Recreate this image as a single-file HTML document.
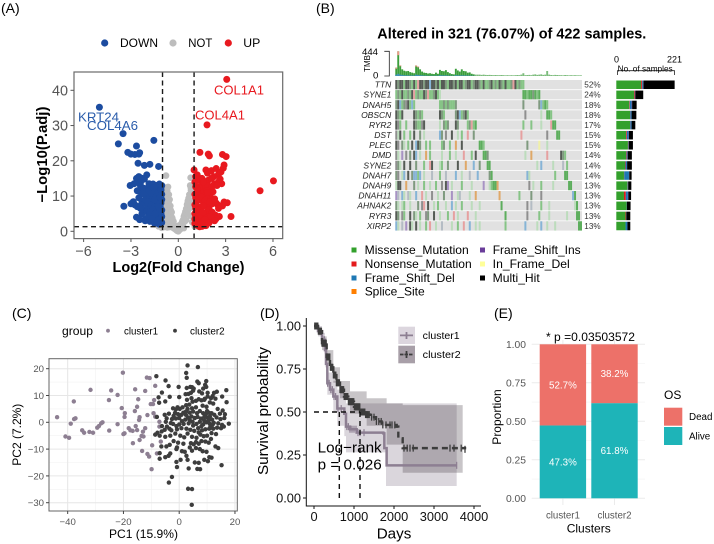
<!DOCTYPE html>
<html lang="en">
<head>
<meta charset="utf-8">
<title>Multi-panel figure</title>
<style>
html,body{margin:0;padding:0;background:#fff;}
svg{display:block;font-family:"Liberation Sans",sans-serif;filter:blur(0.35px);}
text{font-family:"Liberation Sans",sans-serif;}
</style>
</head>
<body>
<svg id="fig" xmlns="http://www.w3.org/2000/svg" width="714" height="544" viewBox="0 0 714 544">
<rect width="714" height="544" fill="#fff"/>

<text x="1" y="13" font-size="14">(A)</text>
<text x="316" y="13" font-size="14">(B)</text>
<text x="12" y="318" font-size="14">(C)</text>
<text x="260" y="318" font-size="14">(D)</text>
<text x="494" y="318" font-size="14">(E)</text>

<!-- Panel A -->
<g id="volcano">
  <g>
    <circle cx="104.7" cy="43" r="3.6" fill="#1c4ca0"/>
    <text x="120" y="47" font-size="12" textLength="38">DOWN</text>
    <circle cx="173" cy="43" r="3.6" fill="#bdbdbd"/>
    <text x="188.3" y="47" font-size="12" textLength="24">NOT</text>
    <circle cx="228.3" cy="43" r="3.6" fill="#e8191f"/>
    <text x="243.3" y="47" font-size="12" textLength="17">UP</text>
  </g>
  <g id="volcano-marks"></g>
  <rect x="74" y="72" width="208.7" height="166.6" fill="none" stroke="#6a6a6a" stroke-width="1.2"/>
  <g id="volcano-axes"></g>
  <text x="78" y="121.5" font-size="13.2" fill="#2a5cab" textLength="41">KRT24</text>
  <text x="87" y="130" font-size="13.2" fill="#2a5cab" textLength="51">COL4A6</text>
  <text x="214" y="94.7" font-size="13" fill="#e8191f" textLength="50">COL1A1</text>
  <text x="195" y="119.3" font-size="13" fill="#e8191f" textLength="50">COL4A1</text>
  <text x="178.5" y="272" font-size="14.8" font-weight="bold" text-anchor="middle" textLength="132">Log2(Fold Change)</text>
  <text transform="translate(47,154.6) rotate(-90)" font-size="14.6" font-weight="bold" text-anchor="middle" textLength="96">−Log10(P.adj)</text>
</g>

<!-- Panel B -->
<g id="onco">
  <text x="377.3" y="38.7" font-size="14.6" font-weight="bold" textLength="269">Altered in 321 (76.07%) of 422 samples.</text>
  <g id="onco-tmb"></g>
  <path d="M384.3 51.3H389.3V76H384.3" fill="none" stroke="#222" stroke-width="0.8"/>
  <text x="362" y="55" font-size="9.6" textLength="16">444</text>
  <text x="373" y="78.5" font-size="9.6">0</text>
  <text transform="translate(370,63.5) rotate(-90)" font-size="7.9" text-anchor="middle">TMB</text>
  <g id="onco-matrix"></g>
  <g id="onco-labels"></g>
  <g id="onco-side"></g>
  <path d="M617.5 75V70.7H674.5V75" fill="none" stroke="#222" stroke-width="0.8"/>
  <text x="616.5" y="62.5" font-size="9" text-anchor="middle">0</text>
  <text x="674.5" y="62.5" font-size="9" text-anchor="middle">221</text>
  <text x="617.7" y="71.5" font-size="8.2" textLength="55">No. of samples</text>
  <g>
    <rect x="351.5" y="247.5" width="5" height="5" fill="#33a02c"/>
    <text x="364.7" y="254" font-size="12" textLength="104">Missense_Mutation</text>
    <rect x="351.5" y="261.5" width="5" height="5" fill="#e31a1c"/>
    <text x="364.7" y="268" font-size="12" textLength="107">Nonsense_Mutation</text>
    <rect x="351.5" y="275.5" width="5" height="5" fill="#1f78b4"/>
    <text x="364.7" y="282" font-size="12" textLength="90">Frame_Shift_Del</text>
    <rect x="351.5" y="289" width="5" height="5" fill="#ff7f00"/>
    <text x="364.7" y="295.5" font-size="12" textLength="60">Splice_Site</text>
    <rect x="480" y="247.5" width="5" height="5" fill="#6a3d9a"/>
    <text x="492.7" y="254" font-size="12" textLength="88">Frame_Shift_Ins</text>
    <rect x="480" y="261.5" width="5" height="5" fill="#ffff99"/>
    <text x="492.7" y="268" font-size="12" textLength="77">In_Frame_Del</text>
    <rect x="480" y="275.5" width="5" height="5" fill="#000"/>
    <text x="492.7" y="282" font-size="12" textLength="47">Multi_Hit</text>
  </g>
</g>

<!-- Panel C -->
<g id="pca">
  <g>
    <text x="62" y="335" font-size="12" textLength="31">group</text>
    <circle cx="108" cy="330.7" r="1.9" fill="#8d7f92"/>
    <text x="124" y="334.3" font-size="9.7" textLength="34">cluster1</text>
    <circle cx="175" cy="330.7" r="1.9" fill="#3d3d3d"/>
    <text x="190" y="334.3" font-size="9.7" textLength="34.7">cluster2</text>
  </g>
  <g id="pca-grid"></g>
  <g id="pca-marks"></g>
  <rect x="49" y="358.7" width="188.3" height="152.3" fill="none" stroke="#666" stroke-width="1"/>
  <g id="pca-axes"></g>
  <text x="143.5" y="538" font-size="12" text-anchor="middle" textLength="69">PC1 (15.9%)</text>
  <text transform="translate(21,434.7) rotate(-90)" font-size="12" text-anchor="middle" textLength="62">PC2 (7.2%)</text>
</g>

<!-- Panel D -->
<g id="surv">
  <g id="surv-marks"></g>
  <path d="M306.3 318V506H481" fill="none" stroke="#111" stroke-width="1"/>
  <g id="surv-axes"></g>
  <g>
    <rect x="398.3" y="326.7" width="16.7" height="17.3" fill="#dcd6de"/>
    <path d="M400 335.4H413M406.5 332V339" stroke="#8d7f92" stroke-width="1.8" fill="none"/>
    <text x="422.7" y="339" font-size="10.5" textLength="37">cluster1</text>
    <rect x="398.3" y="345.7" width="16.7" height="17.6" fill="#a89fa8"/>
    <path d="M400 354.5H413M406.5 351V358" stroke="#3d3d3d" stroke-width="1.8" stroke-dasharray="3.5 1" fill="none"/>
    <text x="422.7" y="358" font-size="10.5" textLength="38">cluster2</text>
  </g>
  <text x="317.7" y="452.7" font-size="15.2" textLength="64">Log−rank</text>
  <text x="317.7" y="469.3" font-size="15.2" textLength="64">p = 0.026</text>
  <text x="394" y="538.5" font-size="15.2" text-anchor="middle">Days</text>
  <text transform="translate(268,411) rotate(-90)" font-size="15.2" text-anchor="middle" textLength="128">Survival probability</text>
</g>

<!-- Panel E -->
<g id="stack">
  <g id="stack-grid"></g>
  <g id="stack-marks"></g>
  <g id="stack-axes"></g>
  <text x="546" y="341" font-size="12" textLength="89">* p =0.03503572</text>
  <text x="588.7" y="532.7" font-size="12" text-anchor="middle">Clusters</text>
  <text transform="translate(501,417) rotate(-90)" font-size="12" text-anchor="middle">Proportion</text>
  <g>
    <text x="664" y="399" font-size="12">OS</text>
    <rect x="664" y="407.7" width="18.3" height="18" fill="#ed7169"/>
    <text x="689" y="420.2" font-size="9.8">Dead</text>
    <rect x="664" y="427" width="18.3" height="18" fill="#1eb4b8"/>
    <text x="689" y="439.7" font-size="9.8">Alive</text>
  </g>
</g>
</svg>

<script>
/* ---------- Panel A data ---------- */
const volcanoXTicks = [-6, -3, 0, 3, 6];
const volcanoYTicks = [0, 10, 20, 30, 40];
const notX = [-0.78,0.78,-0.7,-0.75,-0.6,-0.65,-0.72,-0.55,-0.8,-0.68,-0.62,-0.58,-0.5,-0.85,-0.9,-0.75,-0.55,-0.48,-0.42,-0.6,-0.7,-0.82,-0.92,-0.5,-0.44,-0.38,-0.55,-0.65,-0.75,-0.88,-0.95,-0.35,-0.3,-0.42,-0.5,-0.6,-0.72,-0.85,-0.98,-1.1,-1.25,-0.28,-0.22,-0.35,-0.45,-0.55,-0.7,-0.9,-1.05,-0.15,-0.08,-0.2,-0.3,0,0.05,0.1,0.15,-0.1,-0.05,0.02,0.12,0.2,0.25,0.3,0.35,0.4,0.3,0.25,0.45,0.5,0.42,0.55,0.6,0.5,0.65,0.7,0.58,0.62,0.72,0.8,0.85,0.68,0.75,0.82,0.9,0.92,0.78,0.88,0.95,0.98,1.05,1.2,0.35,0.15,-0.65,-0.82,0.75,0.8];
const notY = [15.8,15.2,11.4,10.8,10.4,9.8,9.4,9,9.2,8.6,8.2,7.6,7.2,8,7,7,6.4,6,5.4,5.6,5.8,5.4,6,4.6,4.2,3.8,3.8,4,4.4,3.8,4.2,3.2,2.8,2.6,2.8,2.6,2.6,2.4,2.6,1.5,1.4,1.8,1.4,1.4,1.4,1.2,1.1,1.2,1,0.8,0.3,0.6,0.9,0,0.3,0.5,0.9,0.2,0.1,1.6,1.8,2.2,2.8,3.2,4.2,4.8,1.4,1.2,5.6,6.4,2.8,7.6,8.6,3.2,9.4,10.4,5,6,6.6,11.6,12.2,7.6,8.6,8,6.8,4.4,4.4,2.6,2.4,3,1.3,1.4,0.9,0.7,12.6,12.4,13,12.2];
const downX = [-5.0,-3.5,-3.8,-2.65,-1.55,-3.2,-3.0,-2.75,-2.5,-2.45,-2.55,-2.15,-1.8,-1.25,-3.05,-3.45,-2.9,-2.75,-2.65,-2.6,-2.5,-2.4,-2.3,-2.15,-2.0,-1.9,-2.35,-2.2,-2.05,-1.85,-1.7,-1.6,-1.5,-1.4,-1.3,-1.2,-1.15,-1.1,-1.05,-2.5,-2.3,-2.1,-1.95,-1.8,-1.65,-1.5,-1.35,-1.25,-1.1,-2.6,-2.35,-2.15,-1.95,-1.75,-1.55,-1.4,-1.2,-1.05,-2.65,-2.3,-2.1,-1.75,-1.6,-1.45,-1.25,-1.1,-2.45,-2.1,-1.7,-1.45,-1.3,-1.15,-1.05,-1.8,-1.5,-1.2,-1.35,-1.1,-1.9,-1.6,-1.05,-1.3,-1.75,-1.55,-2.8,-2.4,-2.2,-2.0,-1.85,-1.7,-1.55,-1.4,-1.25,-1.1,-2.6,-2.2,-1.95,-1.7,-1.5,-1.3,-1.15,-2.4,-2.0,-1.8,-1.6,-1.4,-1.2,-1.05,-1.9,-1.65,-1.45,-1.25,-1.1,-3.0,-2.85,-1.5,-1.25,-1.15,-1.35,-1.05];
const downY = [35.2,27.7,24.8,24.2,25.8,22.4,21.9,21.8,21.9,22.3,19.3,18.7,19,18.4,13,7.1,8,7.5,15,14.5,15.5,13,15,14.8,16,12.5,11,12,10,13.5,12,13.4,11,13,12,13.4,10,12,9,9.5,8.5,9,7.8,10,9,10.5,9.5,10,8,7,7.5,6,7,6.5,8,7,8,6,4,5,3.5,4.5,5,4,4.5,5,3.3,3,3.5,3,4,3,2.5,2.8,2.2,2,5.8,3.8,10.8,11.5,13,8.6,8,6,13.5,13.8,12.2,11.2,11.6,10.8,12.4,9.8,11,11.6,11.5,10.6,8.4,7.5,6.8,6.4,7,6.5,5.6,5.4,6,5.4,5.6,4.2,4.2,3.6,5,3.2,2.2,7.8,8.4,9,7,9.6,2.6,10.5];
const upX = [3.07,1.82,6.03,5.18,1.37,1.9,1.97,2.8,3.03,2.9,2.85,3.34,2.9,3.1,1.0,1.2,1.5,1.75,1.85,2.1,2.4,2.55,2.7,2.25,1.05,1.3,1.55,1.9,2.1,2.3,2.55,2.75,1.1,1.4,1.65,1.85,2.05,2.25,1.05,1.3,1.6,1.8,2.0,2.2,1.15,1.35,1.55,1.75,2.4,2.5,1.05,1.25,1.45,1.75,1.95,2.15,2.55,2.7,1.05,1.2,1.4,1.6,1.85,2.1,2.35,2.6,2.4,1.15,1.35,1.55,1.75,1.95,2.2,1.05,1.25,1.45,1.65,1.85,1.3,1.5,1.15,1.6,1.45,1.35,1.1,1.3,1.6,1.85,2.15,2.45,2.65,1.2,1.45,1.7,2.0,2.3,1.1,1.35,1.6,1.9,2.15,1.1,1.3,1.55,1.8,2.05,2.3,1.2,1.4,1.7,1.95,1.05,1.25,1.55,1.75,1.35,1.45,1.1,1.2,2.8];
const upY = [43.1,30.2,14.3,11.5,22.4,21.9,21.4,21.8,21.2,18.8,17.9,4.2,8.3,8.1,17.4,16,15,17.4,16.5,17.2,17.8,16.2,16.8,15.5,14,14.4,13.5,14.5,15,13.5,14,13.5,12.6,11.5,12.5,13,12,13,10.5,10,11,11.5,10,11.2,8.5,9,8.5,9.6,8,7.5,7.5,7,6.8,7.6,6.5,7.8,6.5,7.2,5,5.5,5,4.8,5.6,5,4.6,4.2,3.6,3.5,3.2,4,3.6,3.2,3.2,2.2,2.4,2.2,2.6,2.4,1.6,1.4,1.8,1.6,2.8,6.2,15.5,12.5,14,11,12.8,13,14.8,10,9.8,8.8,8.4,9.2,6.5,6.2,7.2,6,5.4,4.2,4.4,5.4,3.8,4,3,3,2.2,3.2,2.4,3.5,1.6,1.6,1.6,1.3,2,9.5,12,7.2];

/* ---------- Panel B data ---------- */
const geneNames = ["TTN","SYNE1","DNAH5","OBSCN","RYR2","DST","PLEC","DMD","SYNE2","DNAH7","DNAH9","DNAH11","AHNAK2","RYR3","XIRP2"];
const genePercents = ["52%","24%","18%","18%","17%","15%","15%","14%","14%","14%","13%","13%","13%","13%","13%"];
const mutationRows = [
 [[0,"kgkkmkkgmkmrkkgkkbkkgkmkkgmkkgkmkkmgkkmgkkgmkmmgkmgmkgmkmmgrkmgmm"]],
 [[0,"mgmkmmgmkrmgmmkgrmmgkml"],[64,"MMmMMgMmM"]],
 [[0,"gkbmgxkmbm"],[22,"mmgmgmmmg"],[64,"g"],[72,"gbmMm"]],
 [[0,"kgmk"],[9,"kgmgm"],[22,"kgm"],[30,"gkbmgkm"],[65,"x"],[73,"l"],[76,"MMm"]],
 [[0,"kxm"],[5,"m"],[9,"kgmmxk"],[22,"l"],[24,"gmg"],[30,"kg"],[36,"mgrmM"],[64,"m"],[68,"m"],[73,"l"],[78,"rMM"]],
 [[0,"xlk"],[4,"m"],[7,"m"],[9,"k"],[12,"g"],[14,"l"],[22,"bg"],[25,"x"],[28,"k"],[31,"l"],[33,"m"],[36,"r"],[39,"g"],[63,"r"],[76,"x"],[81,"MM"]],
 [[0,"kx"],[3,"gl"],[6,"m"],[8,"k"],[10,"b"],[11,"kg"],[15,"m"],[17,"m"],[23,"mg"],[27,"m"],[30,"o"],[33,"k"],[42,"MMm"],[66,"g"],[72,"y"],[76,"l"]],
 [[0,"xl"],[3,"p"],[5,"x"],[7,"g"],[9,"kb"],[12,"l"],[15,"o"],[17,"m"],[23,"l"],[27,"m"],[30,"l"],[34,"r"],[38,"m"],[40,"k"],[44,"MMg"],[65,"l"],[68,"o"],[76,"r"],[83,"kgm"]],
 [[0,"xgl"],[4,"k"],[7,"k"],[10,"g"],[14,"m"],[17,"rk"],[22,"lm"],[26,"g"],[31,"k"],[35,"o"],[39,"b"],[42,"g"],[46,"MM"],[71,"l"],[73,"b"],[79,"l"],[84,"s"],[86,"m"]],
 [[0,"gx"],[3,"lb"],[6,"k"],[8,"gbbmb"],[14,"l"],[18,"s"],[22,"m"],[25,"s"],[30,"b"],[33,"l"],[37,"s"],[41,"b"],[47,"gM"],[66,"bl"],[80,"m"],[85,"MM"]],
 [[0,"lkk"],[5,"o"],[9,"g"],[11,"l"],[14,"m"],[17,"l"],[20,"m"],[23,"x"],[25,"kp"],[28,"l"],[33,"m"],[38,"l"],[44,"p"],[47,"lm"],[49,"MMo"],[67,"x"],[69,"l"],[73,"m"],[79,"l"],[87,"MM"]],
 [[0,"ps"],[3,"bl"],[6,"sl"],[10,"b"],[13,"r"],[15,"l"],[18,"x"],[21,"l"],[24,"g"],[28,"p"],[31,"ls"],[37,"l"],[40,"o"],[52,"o"],[62,"m"],[68,"g"],[73,"x"],[89,"bM"]],
 [[0,"gl"],[3,"lm"],[7,"l"],[11,"g"],[13,"xr"],[16,"k"],[19,"l"],[21,"m"],[25,"l"],[28,"b"],[30,"l"],[33,"m"],[38,"l"],[42,"l"],[53,"M"],[66,"x"],[68,"s"],[73,"m"],[77,"l"],[90,"lM"]],
 [[0,"kg"],[3,"xm"],[7,"k"],[9,"gl"],[12,"m"],[15,"xg"],[19,"k"],[22,"l"],[26,"m"],[29,"r"],[31,"l"],[36,"r"],[40,"l"],[55,"M"],[66,"x"],[72,"m"],[77,"l"],[86,"l"],[91,"MM"]],
 [[0,"bl"],[3,"s"],[5,"p"],[7,"kl"],[10,"k"],[12,"l"],[15,"m"],[17,"r"],[20,"l"],[23,"s"],[28,"l"],[31,"m"],[34,"r"],[37,"b"],[40,"l"],[42,"l"],[55,"m"],[65,"b"],[71,"l"],[73,"b"],[76,"l"],[80,"l"],[92,"MM"]]
];
const cellColors = {m:"#86c486",M:"#5dae5d",l:"#bcdcbc",k:"#555b55",g:"#7f9a7f",b:"#86b4d6",r:"#e6a0a0",o:"#dfa868",p:"#a892c4",y:"#f0f0a8",x:"#8f8f8f",s:"#b4bcc4"};
const tmbValues = [150,444,190,120,95,85,90,70,60,50,190,170,120,80,60,55,45,50,40,35,60,40,110,90,85,105,70,50,35,30,130,100,80,120,90,85,60,65,40,30,25,25,25,20,25,20,18,20,18,15,18,15,15,18,15,12,15,12,15,12,15,18,15,25,50,15,18,20,15,25,30,20,25,30,20,25,90,25,18,15,20,18,15,15,12,18,15,12,15,12,15,12,12,12];
const tmbFrameshift = [25,40,25,20,15,12,12,10,10,8,25,20,15,12,8,8,5,5,5,5,8,5,15,12,10,12,8,6,5,4,15,12,10,12,10,10,8,8,5,4];
const tmbNonsense = [20,70,15,0,0,0,0,0,0,0,20,15];
const sideMissense = [94,67,49,52,52,37,44,37,33,29,42,29,39,35,35];
const sideNonsense = [4,3,2,1,1,3,1,2,2,1,1,7,0,2,0];
const sideFrameDel = [4,1,7,5,5,6,1,3,6,18,2,8,1,1,7];
const sideFrameIns = [1,1,2,0,0,2,1,1,0,1,0,2,0,0,0];
const sideMultiHit = [118,30,17,18,14,15,16,16,18,9,12,10,14,15,11];

/* ---------- Panel C data ---------- */
const pcaXMajor = [-40,-20,0,20];
const pcaXMinor = [-30,-10,10];
const pcaYMajor = [-30,-20,-10,0,10,20];
const pcaYMinor = [-25,-15,-5,5,15];
const cluster1Points = [[-43.8,1.9],[-40.8,-5.3],[-39.5,-5.8],[-38.9,-0.5],[-37.8,7.8],[-37.7,1.2],[-37.2,1.5],[-34.8,-3],[-34.1,-3.9],[-32.2,-3.6],[-30.9,-3.9],[-31.8,12.1],[-29.4,-2],[-28.8,-1.4],[-28,-0.4],[-27.5,0],[-25.2,8.3],[-24.4,11.9],[-25.1,-3.1],[-22.1,10.2],[-22.1,-0.7],[-20.6,5.3],[-20.2,18.5],[-19.5,3.4],[-19.6,2],[-20,-4.4],[-19.6,-4.1],[-18.1,-2.2],[-17.5,-3],[-16.7,-3.2],[-15.6,-1.4],[-15.1,-2.9],[-15.8,12.3],[-15.9,4.2],[-14.7,8.6],[-15.1,5.8],[-14.2,1.9],[-14.4,0.9],[-16.6,-7.8],[-14.2,-6.6],[-13,-3.5],[-13.5,-5.1],[-12.8,-5.3],[-12.2,-2.2],[-12.2,11.7],[-11.6,16.7],[-10.6,16.5],[-11.4,2.7],[-13.3,-10.7],[-11.4,-11.8],[-10.8,-12.8],[-9.9,-17.5],[-9.7,-8.6],[-10.2,6.8],[-9.4,6.8],[-9,8.3],[-8.6,13.6],[-9.2,3.4],[-8.6,2.1],[-7.1,0.2],[-7.1,-1.6],[-6.6,-7.2],[-8,-11.6]];
const cluster2Points = [[-8.2,17.2],[-4.9,15.6],[-3.8,13.5],[-6.2,11.1],[-7.4,9.3],[-7.2,7.3],[-5,7.8],[-3.4,9.5],[-8,2],[-5.2,2.8],[-4.5,1.5],[-3.7,3.2],[-4.8,0.2],[-3,-0.3],[-2.6,1.2],[-2,2.4],[-1.2,4.8],[-2.2,5.2],[-0.6,5.6],[0.2,5],[-1.5,3.5],[-0.4,3],[-1.2,1.4],[0,1.6],[0.8,2.8],[1.5,3.6],[1.2,5.6],[2.5,6.4],[3,5],[3.6,6.6],[2.4,4],[3.8,3.6],[4.6,5.2],[5,4],[4.4,2.2],[3.2,1.8],[2.2,1],[1,0.4],[0,-0.8],[-1,-1.4],[-2.2,-0.6],[-3.5,-2.4],[-5.2,-2.8],[-6.3,-3.4],[-7.8,-3.9],[-8.6,-4.6],[3,21.2],[6.7,20.6],[2.5,18.4],[2.7,16.6],[6.5,15.2],[7,14.6],[9.7,15.4],[9.3,14],[9.7,13.2],[8.6,12.6],[4,13.2],[4.6,13.1],[2.7,12.8],[-0.2,13.2],[2.3,10.5],[3.3,10.6],[4.2,11],[5,11.8],[7.2,11.5],[8.2,10.8],[10.2,11],[12.5,11],[13.5,11.4],[16.9,12],[12,9.8],[13,8.8],[17,7.5],[11,7.4],[12.2,7],[7,8.6],[8,8.2],[9,8.4],[6,8],[4.8,7.7],[0,9.4],[-3.7,-22.5],[-2.6,-20.4],[3.2,-24.8],[4.6,-24.9],[4.5,-30.8],[15.2,-16],[3.4,-17.2],[6.5,-17.4],[7.5,-17.5],[-0.8,-16.7],[-1,-14.8],[0.5,-14],[-7,-13.6],[-7,-11.5],[-5,-13],[-3.8,-12.5],[-3.2,-11.6],[2.6,-12.5],[3,-14],[5.6,-15],[7,-15.1],[9,-14],[10.3,-14.5],[10.8,-13],[11.6,-13.2],[13,-9],[14,-9.6],[-1,-10],[-0.8,-9.4],[1,-10.8],[2,-11],[3.8,-9.4],[4.6,-10.6],[6,-9.6],[7.4,-10],[8.4,-10.8],[9.8,-11],[-4.6,-9],[-3.4,-8.4],[-6.4,-9],[-2,-7],[-0.4,-7.6],[1.5,-8],[4.2,-7.8],[5.2,-8.2],[6,-7.4],[7,-8],[8,-7],[9.4,-7.2],[10.6,-7.6],[11.4,-6.2],[-7,-5],[-5,-5.4],[-3.2,-5],[-1.4,-4.2],[0.4,-5],[1.8,-5.6],[3,-4.2],[4.6,-5.4],[6.2,-5.8],[7.6,-4.6],[8.8,-5.2],[10,-5],[11.6,-4],[13.2,-4.4],[-6.2,-1.4],[-4.4,-1.6],[-2.8,-3],[-0.8,-2.6],[0.8,-2.2],[2.6,-2.4],[4,-2.8],[5.4,-3.2],[6.8,-2.2],[8.2,-3],[9.4,-2.6],[10.8,-2.4],[12.2,-2.4],[13.6,-2],[15,-2.2],[16,-1.6],[1.6,-0.6],[3.4,-0.4],[4.8,0.2],[6.2,-0.6],[7.4,0.2],[8.6,-0.8],[9.8,0],[11,-0.6],[12.4,-0.2],[14,-0.4],[15.4,-1],[17.8,-0.5],[5.6,1.6],[6.6,2],[7.8,1.4],[9,2],[10,1.8],[11,2.2],[11.8,1],[13.4,1.8],[14.8,1.2],[16.2,1.6],[6.4,3.4],[7.4,4.2],[8.6,3.4],[9.6,3.2],[10.6,3.6],[11.6,3.4],[12.6,2.8],[14.6,3.2],[16.4,3],[6,5.6],[8.4,6.2],[9.8,5.8],[13.8,5],[15.6,4.4],[2.8,8.4],[4.4,9],[10.2,9.6],[11.4,9],[5.2,12.6],[9.2,8.8],[15.4,9.6],[10,4.2],[9,0.6],[8,-1.4],[10.6,0.8],[11.2,-1.6],[12,-0.8],[7,-3.8],[5,-1.2],[2.4,2.8],[3.8,0.8]];

/* ---------- Panel D data ---------- */
const survXTicks = [0,1000,2000,3000,4000];
const survYTicks = [0,0.25,0.5,0.75,1];
const cluster1Times = [0,100,200,275,300,333,400,483,583,758,800,900,1067,1733,1758,1816,3567];
const cluster1Surv = [1,0.97,0.92,0.86,0.78,0.667,0.63,0.59,0.52,0.49,0.415,0.40,0.38,0.376,0.29,0.19,0.19];
const cluster2Times = [0,100,200,317,400,483,560,650,750,858,1000,1150,1280,1400,1550,1690,2067,2108,2217,3775];
const cluster2Surv = [1,0.97,0.9,0.82,0.76,0.715,0.67,0.63,0.59,0.56,0.53,0.50,0.485,0.47,0.445,0.425,0.415,0.347,0.29,0.283];
const cluster1BandTimes = [0,100,200,275,333,483,583,758,800,1750,1800,3567];
const cluster1Upper = [1,1,0.96,0.9,0.73,0.68,0.63,0.6,0.55,0.55,0.55,0.55];
const cluster1Lower = [1,0.94,0.88,0.82,0.6,0.5,0.42,0.36,0.265,0.265,0.07,0.07];
const cluster2BandTimes = [0,100,200,317,483,650,900,1316,1816,2217,3717];
const cluster2Upper = [1,0.99,0.94,0.86,0.76,0.68,0.62,0.58,0.55,0.54,0.54];
const cluster2Lower = [1,0.95,0.86,0.78,0.67,0.58,0.49,0.42,0.31,0.147,0.147];
const cluster1Censors = [40,90,150,210,260,285,310,340,380,420,460,500,540,600,680,820,860,900,950,1000,1050,1100,1150,1250,3567];
const cluster2Censors = [20,35,50,65,80,95,110,125,140,155,170,185,200,215,230,245,260,275,290,305,320,335,350,365,380,395,410,425,440,455,470,485,500,515,530,545,560,575,590,605,620,635,650,665,680,695,710,725,740,755,770,785,800,815,830,845,860,875,890,905,920,935,950,965,980,995,1010,1025,1040,1055,1070,1085,1100,1115,1130,1145,1160,1175,1190,1205,1220,1235,1250,1270,1290,1310,1330,1350,1380,1440,1500,1560,1620,1680,1720,1800,1900,1950,2020,2250,2330,2400,2480,3400,3500,3680,3775];
const medianTimes = [633,1150];

/* ---------- Panel E data ---------- */
const stackCategories = ["cluster1","cluster2"];
const aliveShare = [0.473,0.618];
const deadShare = [0.527,0.382];
const stackYMajor = [0,0.25,0.5,0.75,1];
const stackYMinor = [0.125,0.375,0.625,0.875];

/* ---------- helpers ---------- */
const SVGNS = "http://www.w3.org/2000/svg";
function mk(tag, attrs, parent){
  const el = document.createElementNS(SVGNS, tag);
  for (const k in attrs) el.setAttribute(k, attrs[k]);
  parent.appendChild(el);
  return el;
}
function label(parent, x, y, str, size, anchor, fill, name){
  const t = mk('text', {x:x, y:y, 'font-size':size, 'text-anchor':anchor, fill:fill}, parent);
  t.textContent = str;
  
  
  return t;
}
function tickLine(parent, x1, y1, x2, y2, color, name){
  const l = mk('line', {x1:x1, y1:y1, x2:x2, y2:y2, stroke:color, 'stroke-width':1}, parent);
  
  
}
function scatter(parent, xs, ys, sx, sy, r, fill, name){
  for (let i = 0; i < xs.length; i++){
    const c = mk('circle', {cx:sx(xs[i]).toFixed(2), cy:sy(ys[i]).toFixed(2), r:r, fill:fill}, parent);
    
    
  }
}
function fmt(v){ return String(v).replace('-', '\u2212'); }
document.querySelectorAll('text[textLength]').forEach(function(t){ t.setAttribute('lengthAdjust', 'spacingAndGlyphs'); });

/* ---------- Panel A ---------- */
const volX = v => 178.3 + v * 15.78;
const volY = v => 231.3 - v * 3.525;
const volMarks = document.getElementById('volcano-marks');
scatter(volMarks, notX, notY, volX, volY, 3.3, '#bdbdbd', 'point-not');
scatter(volMarks, downX, downY, volX, volY, 3.5, '#1c4ca0', 'point-down');
scatter(volMarks, upX, upY, volX, volY, 3.5, '#e8191f', 'point-up');
[[volX(-1),72,volX(-1),238.6,'threshold-line-negative'],[volX(1),72,volX(1),238.6,'threshold-line-positive'],[74,volY(1.3),282.7,volY(1.3),'threshold-line-significance']].forEach(function(d){
  const l = mk('line', {x1:d[0], y1:d[1], x2:d[2], y2:d[3], stroke:'#1a1a1a', 'stroke-width':1.4, 'stroke-dasharray':'5 3.5'}, volMarks);
  
  
});
const volAxes = document.getElementById('volcano-axes');
volcanoXTicks.forEach(function(v){
  tickLine(volAxes, volX(v), 238.6, volX(v), 242, '#555', 'volcano-x-tick');
  label(volAxes, volX(v), 256, fmt(v), 14.4, 'middle', '#555', 'volcano-x-tick-label');
});
volcanoYTicks.forEach(function(v){
  tickLine(volAxes, 70.5, volY(v), 74, volY(v), '#555', 'volcano-y-tick');
  label(volAxes, 68, volY(v) + 5, fmt(v), 14.4, 'end', '#555', 'volcano-y-tick-label');
});

/* ---------- Panel B ---------- */
const rowTop = i => 80 + i * 10.09;
const colX = i => 395.3 + i * 1.986;
const matrix = document.getElementById('onco-matrix');
const geneLabels = document.getElementById('onco-labels');
const sideG = document.getElementById('onco-side');
const sideX = v => v * 0.264;
const sideSeries = [[sideMissense,'#33a02c','side-bar-missense'],[sideNonsense,'#e31a1c','side-bar-nonsense'],[sideFrameDel,'#1f78b4','side-bar-frame-shift-del'],[sideFrameIns,'#6a3d9a','side-bar-frame-shift-ins'],[sideMultiHit,'#000000','side-bar-multi-hit']];
geneNames.forEach(function(g, i){
  const y = rowTop(i);
  const bg = mk('rect', {x:395.3, y:y, width:186.7, height:9.3, fill:'#e1e1e1'}, matrix);
  
  
  mutationRows[i].forEach(function(seg){
    for (let k = 0; k < seg[1].length; k++){
      const c = mk('rect', {x:colX(seg[0] + k).toFixed(2), y:y, width:2, height:9.3, fill:cellColors[seg[1][k]]}, matrix);
      
      
    }
  });
  const gl = label(geneLabels, 391.3, y + 7.6, g, 8.5, 'end', '#222', 'gene-label');
  gl.setAttribute('font-style', 'italic');
  label(geneLabels, 584.3, y + 7.6, genePercents[i], 8.2, 'start', '#333', 'gene-percent');
  let sx = 616.3;
  sideSeries.forEach(function(s){
    const w = sideX(s[0][i]);
    const r = mk('rect', {x:sx.toFixed(2), y:y + 0.5, width:w.toFixed(2), height:8.5, fill:s[1]}, sideG);
    
    
    sx += w;
  });
});
const tmbG = document.getElementById('onco-tmb');
const tmbY = v => v * 24.7 / 444;
tmbValues.forEach(function(v, i){
  const h = tmbY(v);
  const fill = i < 40 ? '#3c9e3c' : '#7cbc7c';
  const r = mk('rect', {x:colX(i).toFixed(2), y:(76 - h).toFixed(2), width:1.9, height:h.toFixed(2), fill:fill}, tmbG);
  
  
  const f = tmbFrameshift[i] || 0;
  if (f){
    const b = mk('rect', {x:colX(i).toFixed(2), y:(76 - tmbY(f)).toFixed(2), width:1.9, height:tmbY(f).toFixed(2), fill:'#3c8fb8'}, tmbG);
    
    
  }
  const n = tmbNonsense[i] || 0;
  if (n){
    const t = mk('rect', {x:colX(i).toFixed(2), y:(76 - h).toFixed(2), width:1.9, height:tmbY(n).toFixed(2), fill:'#ef9a8a'}, tmbG);
    
    
  }
});

/* ---------- Panel C ---------- */
const pcaX = v => 179.2 + v * 2.788;
const pcaY = v => 422.3 - v * 2.68;
const pcaGrid = document.getElementById('pca-grid');
function pcaGridLine(x1, y1, x2, y2, color, width, name){
  const l = mk('line', {x1:x1, y1:y1, x2:x2, y2:y2, stroke:color, 'stroke-width':width}, pcaGrid);
  
  
}
pcaXMinor.forEach(function(v){ pcaGridLine(pcaX(v), 358.7, pcaX(v), 511, '#f2f2f2', 0.6, 'pca-grid-minor-x'); });
pcaYMinor.forEach(function(v){ pcaGridLine(49, pcaY(v), 237.3, pcaY(v), '#f2f2f2', 0.6, 'pca-grid-minor-y'); });
pcaXMajor.forEach(function(v){ pcaGridLine(pcaX(v), 358.7, pcaX(v), 511, '#e6e6e6', 1, 'pca-grid-major-x'); });
pcaYMajor.forEach(function(v){ pcaGridLine(49, pcaY(v), 237.3, pcaY(v), '#e6e6e6', 1, 'pca-grid-major-y'); });
const pcaMarks = document.getElementById('pca-marks');
scatter(pcaMarks, cluster1Points.map(p => p[0]), cluster1Points.map(p => p[1]), pcaX, pcaY, 2.2, '#8d7f92', 'point-cluster1');
scatter(pcaMarks, cluster2Points.map(p => p[0]), cluster2Points.map(p => p[1]), pcaX, pcaY, 2.2, '#3d3d3d', 'point-cluster2');
const pcaAxes = document.getElementById('pca-axes');
pcaXMajor.forEach(function(v){
  tickLine(pcaAxes, pcaX(v), 511, pcaX(v), 514, '#444', 'pca-x-tick');
  label(pcaAxes, pcaX(v), 525, fmt(v), 9.6, 'middle', '#555', 'pca-x-tick-label');
});
pcaYMajor.forEach(function(v){
  tickLine(pcaAxes, 46, pcaY(v), 49, pcaY(v), '#444', 'pca-y-tick');
  label(pcaAxes, 44, pcaY(v) + 3.4, fmt(v), 9.6, 'end', '#555', 'pca-y-tick-label');
});

/* ---------- Panel D ---------- */
const surX = t => 314 + t * 0.04;
const surY = s => 498 - s * 172;
function stepForward(ts, vs){
  let d = '';
  for (let i = 0; i < ts.length; i++){
    d += (i ? 'L' + surX(ts[i]).toFixed(2) + ' ' + surY(vs[i - 1]).toFixed(2) : 'M' + surX(ts[0]).toFixed(2) + ' ' + surY(vs[0]).toFixed(2));
    d += 'L' + surX(ts[i]).toFixed(2) + ' ' + surY(vs[i]).toFixed(2);
  }
  return d;
}
function stepBack(ts, vs){
  let d = '';
  for (let i = ts.length - 1; i >= 0; i--){
    d += 'L' + surX(ts[i]).toFixed(2) + ' ' + surY(vs[i]).toFixed(2);
    if (i > 0) d += 'L' + surX(ts[i]).toFixed(2) + ' ' + surY(vs[i - 1]).toFixed(2);
  }
  return d;
}
function survAt(ts, vs, t){
  let v = vs[0];
  for (let i = 0; i < ts.length; i++){ if (ts[i] <= t) v = vs[i]; }
  return v;
}
const survG = document.getElementById('surv-marks');
const band1 = mk('path', {d:stepForward(cluster1BandTimes, cluster1Upper) + stepBack(cluster1BandTimes, cluster1Lower) + 'Z', fill:'#8d7f92', 'fill-opacity':0.32}, survG);


const band2 = mk('path', {d:stepForward(cluster2BandTimes, cluster2Upper) + stepBack(cluster2BandTimes, cluster2Lower) + 'Z', fill:'#4a404a', 'fill-opacity':0.3}, survG);


const curve1 = mk('path', {d:stepForward(cluster1Times, cluster1Surv), fill:'none', stroke:'#8d7f92', 'stroke-width':2.5}, survG);


cluster1Censors.forEach(function(t){
  const s = survAt(cluster1Times, cluster1Surv, t);
  const m = mk('line', {x1:surX(t), x2:surX(t), y1:surY(s) - 3.5, y2:surY(s) + 3.5, stroke:'#8d7f92', 'stroke-width':1.2}, survG);
  
  
});
const curve2 = mk('path', {d:stepForward(cluster2Times, cluster2Surv), fill:'none', stroke:'#3d3d3d', 'stroke-width':2.4, 'stroke-dasharray':'6 4'}, survG);


cluster2Censors.forEach(function(t){
  const s = survAt(cluster2Times, cluster2Surv, t);
  const m = mk('line', {x1:surX(t), x2:surX(t), y1:surY(s) - 3.5, y2:surY(s) + 3.5, stroke:'#3d3d3d', 'stroke-width':1.3}, survG);
  
  
});
const medianH = mk('line', {x1:surX(0), x2:surX(medianTimes[1]), y1:surY(0.5), y2:surY(0.5), stroke:'#111', 'stroke-width':1.4, 'stroke-dasharray':'5 4'}, survG);


medianTimes.forEach(function(t){
  const v = mk('line', {x1:surX(t), x2:surX(t), y1:surY(0.5), y2:surY(0), stroke:'#111', 'stroke-width':1.4, 'stroke-dasharray':'5 4'}, survG);
  
  
});
const survAxes = document.getElementById('surv-axes');
survXTicks.forEach(function(v){
  tickLine(survAxes, surX(v), 506, surX(v), 509, '#111', 'survival-x-tick');
  label(survAxes, surX(v), 521, String(v), 12.8, 'middle', '#111', 'survival-x-tick-label');
});
survYTicks.forEach(function(v){
  tickLine(survAxes, 303, surY(v), 306.3, surY(v), '#111', 'survival-y-tick');
  label(survAxes, 301, surY(v) + 4.5, v.toFixed(2), 12.8, 'end', '#111', 'survival-y-tick-label');
});

/* ---------- Panel E ---------- */
const stkY = v => 498.3 - v * 154;
const stkLeft = [539.7, 591.3];
const stkW = 46.4;
const stkGrid = document.getElementById('stack-grid');
function stkLine(x1, y1, x2, y2, color, w, name){
  const l = mk('line', {x1:x1, y1:y1, x2:x2, y2:y2, stroke:color, 'stroke-width':w}, stkGrid);
  
  
}
stackYMinor.forEach(function(v){ stkLine(531.7, stkY(v), 645, stkY(v), '#f3f3f3', 0.6, 'stacked-bar-grid-minor'); });
stackYMajor.forEach(function(v){ stkLine(531.7, stkY(v), 645, stkY(v), '#ebebeb', 1, 'stacked-bar-grid-major'); });
stackCategories.forEach(function(c, i){ stkLine(stkLeft[i] + stkW / 2, 340, stkLeft[i] + stkW / 2, 505, '#ebebeb', 1, 'stacked-bar-grid-vertical'); });
const stkMarks = document.getElementById('stack-marks');
stackCategories.forEach(function(c, i){
  const a = mk('rect', {x:stkLeft[i], y:stkY(aliveShare[i]), width:stkW, height:(stkY(0) - stkY(aliveShare[i])).toFixed(2), fill:'#1eb4b8'}, stkMarks);
  
  
  const d = mk('rect', {x:stkLeft[i], y:stkY(aliveShare[i] + deadShare[i]), width:stkW, height:(stkY(aliveShare[i]) - stkY(aliveShare[i] + deadShare[i])).toFixed(2), fill:'#ed7169'}, stkMarks);
  
  
  label(stkMarks, stkLeft[i] + stkW / 2, stkY(aliveShare[i] / 2) + 3.5, (aliveShare[i] * 100).toFixed(1) + '%', 9.8, 'middle', '#ffffff', 'bar-value-alive');
  label(stkMarks, stkLeft[i] + stkW / 2, stkY(aliveShare[i] + deadShare[i] / 2) + 3.5, (deadShare[i] * 100).toFixed(1) + '%', 9.8, 'middle', '#ffffff', 'bar-value-dead');
});
const stkAxes = document.getElementById('stack-axes');
stackYMajor.forEach(function(v){
  label(stkAxes, 526, stkY(v) + 3.6, v.toFixed(2), 10.3, 'end', '#555', 'stacked-bar-y-tick-label');
});
stackCategories.forEach(function(c, i){
  label(stkAxes, stkLeft[i] + stkW / 2, 518.7, c, 9.7, 'middle', '#555', 'stacked-bar-x-tick-label');
});
</script>
</body>
</html>
